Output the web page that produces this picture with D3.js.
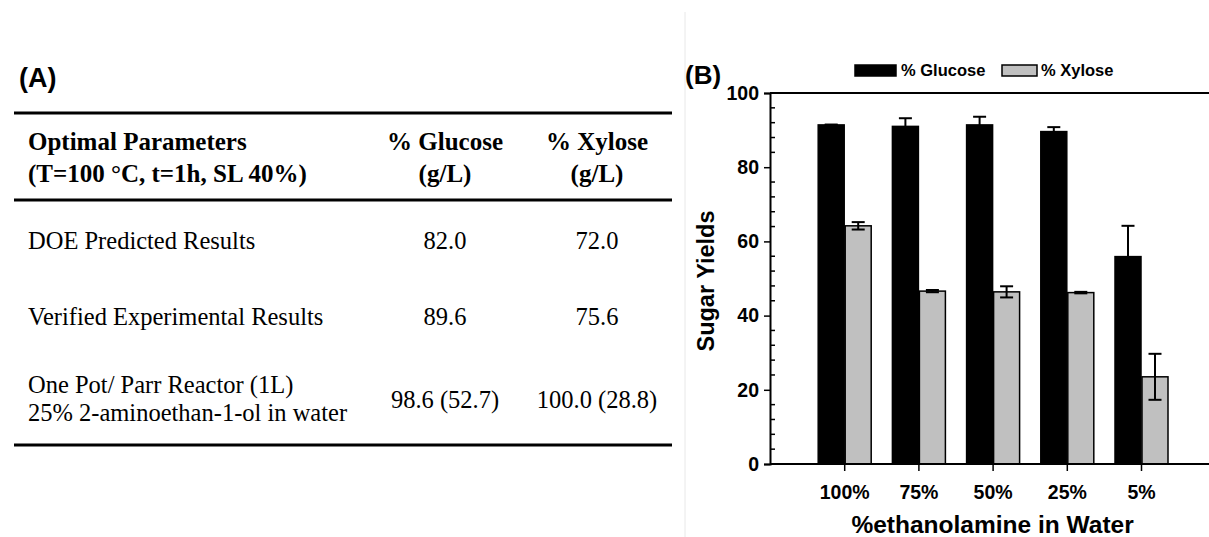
<!DOCTYPE html>
<meta charset="utf-8">
<head>
    <script src="https://d3js.org/d3.v7.min.js"></script>
    <style>
        body { margin: 0; background: #fff; }
        svg { display: block; }
    </style>
</head>
<body>
    <svg></svg>
    <script>

    // ---- data ----
    var categories = ["100%", "75%", "50%", "25%", "5%"];
    var glucose    = [91.4, 91.0, 91.4, 89.6, 55.9];
    var glucoseErr = [0.1, 2.2, 2.2, 1.2, 8.3];
    var xylose     = [64.2, 46.6, 46.4, 46.2, 23.5];
    var xyloseErr  = [1.0, 0.3, 1.5, 0.2, 6.2];
    var yTicks     = [0, 20, 40, 60, 80, 100];
    var seriesNames = ["% Glucose", "% Xylose"];

    // table (A)
    var headLeft  = ["Optimal Parameters", "(T=100 \u00B0C, t=1h, SL 40%)"];
    var headCols  = [["% Glucose", "(g/L)"], ["% Xylose", "(g/L)"]];
    var rowLabels = [["DOE Predicted Results"], ["Verified Experimental Results"],
                     ["One Pot/ Parr Reactor (1L)", "25% 2-aminoethan-1-ol in water"]];
    var glucoseCol = ["82.0", "89.6", "98.6 (52.7)"];
    var xyloseCol  = ["72.0", "75.6", "100.0 (28.8)"];

    var width = 1209,
        height = 537;

    var svg = d3.select('svg')
        .attr('width', width)
        .attr('height', height);

    var serif = '"Liberation Serif", "Times New Roman", serif';
    var sans = '"Liberation Sans", Arial, sans-serif';

    // ================= panel A : table =================
    var ta = svg.append('g');

    ta.append('text')
        .attr('x', 19).attr('y', 87)
        .style('font-family', sans).style('font-weight', 'bold').style('font-size', '27px')
        .text('(A)');

    [113, 200, 445].forEach(function (y) {
        ta.append('line')
            .attr('x1', 14).attr('x2', 672)
            .attr('y1', y).attr('y2', y)
            .attr('stroke', '#000').attr('stroke-width', 3);
    });

    var colX = [445, 597];

    headLeft.forEach(function (t, i) {
        ta.append('text')
            .attr('x', 28).attr('y', 150 + i * 32)
            .style('font-family', serif).style('font-weight', 'bold').style('font-size', '25px')
            .text(t);
    });
    headCols.forEach(function (lines, c) {
        lines.forEach(function (t, i) {
            ta.append('text')
                .attr('x', colX[c]).attr('y', 150 + i * 32)
                .attr('text-anchor', 'middle')
                .style('font-family', serif).style('font-weight', 'bold').style('font-size', '25px')
                .text(t);
        });
    });

    var rowBase = [249, 325, 393];
    rowLabels.forEach(function (lines, r) {
        lines.forEach(function (t, i) {
            ta.append('text')
                .attr('x', 28).attr('y', rowBase[r] + i * 28)
                .style('font-family', serif).style('font-size', '24.5px')
                .text(t);
        });
        var vy = lines.length > 1 ? rowBase[r] + 15 : rowBase[r];
        [glucoseCol[r], xyloseCol[r]].forEach(function (v, c) {
            ta.append('text')
                .attr('x', colX[c]).attr('y', vy)
                .attr('text-anchor', 'middle')
                .style('font-family', serif).style('font-size', '24.5px')
                .text(v);
        });
    });

    // faint divider between panels
    svg.append('line')
        .attr('x1', 685).attr('x2', 685)
        .attr('y1', 12).attr('y2', height)
        .attr('stroke', '#e8e8e8').attr('stroke-width', 1);

    // ================= panel B : bar chart =================
    var x0 = 770, yTop = 93, yBot = 464;

    var x = d3.scaleLinear()
        .domain([0, 6])
        .range([x0, x0 + 6 * 74.2]);

    var y = d3.scaleLinear()
        .domain([0, 100])
        .range([yBot, yTop]);

    var barW = 27;
    var g = svg.append('g');

    // bars
    var series = [
        { vals: glucose, errs: glucoseErr, fill: '#000', off: -barW + 1 },
        { vals: xylose, errs: xyloseErr, fill: '#c0c0c0', off: 1 }
    ];

    series.forEach(function (s) {
        g.selectAll(null)
            .data(s.vals)
            .enter().append('rect')
            .attr('x', function (d, i) { return x(i + 1) + s.off; })
            .attr('y', function (d) { return y(d); })
            .attr('width', barW - 1)
            .attr('height', function (d) { return y(0) - y(d); })
            .attr('fill', s.fill)
            .attr('stroke', '#000')
            .attr('stroke-width', 1.5);

        // error bars
        var eb = g.selectAll(null)
            .data(s.vals)
            .enter().append('g')
            .attr('stroke', '#000').attr('stroke-width', 2);
        eb.append('line')
            .attr('x1', function (d, i) { return x(i + 1) + s.off + (barW - 1) / 2; })
            .attr('x2', function (d, i) { return x(i + 1) + s.off + (barW - 1) / 2; })
            .attr('y1', function (d, i) { return y(d + s.errs[i]); })
            .attr('y2', function (d, i) { return y(d - s.errs[i]); });
        [1, -1].forEach(function (sign) {
            eb.append('line')
                .attr('x1', function (d, i) { return x(i + 1) + s.off + (barW - 1) / 2 - 6.5; })
                .attr('x2', function (d, i) { return x(i + 1) + s.off + (barW - 1) / 2 + 6.5; })
                .attr('y1', function (d, i) { return y(d + sign * s.errs[i]); })
                .attr('y2', function (d, i) { return y(d + sign * s.errs[i]); });
        });
    });

    // top frame line
    g.append('line')
        .attr('x1', x0).attr('x2', width)
        .attr('y1', yTop).attr('y2', yTop)
        .attr('stroke', '#000').attr('stroke-width', 2);

    // y axis: major ticks outward, minor ticks inward
    var yAxis = g.append('g')
        .attr('transform', 'translate(' + x0 + ',0)')
        .call(d3.axisLeft(y).tickValues(yTicks).tickSize(6).tickPadding(5));
    yAxis.select('.domain').attr('stroke-width', 2);
    yAxis.selectAll('.tick line').attr('stroke-width', 1.5);
    yAxis.selectAll('text')
        .style('font-family', sans).style('font-weight', 'bold').style('font-size', '19.5px');

    var minor = d3.range(0, 101, 4).filter(function (v) { return v % 20 !== 0; });
    g.selectAll(null)
        .data(minor)
        .enter().append('line')
        .attr('x1', x0).attr('x2', x0 + 5)
        .attr('y1', function (d) { return y(d); })
        .attr('y2', function (d) { return y(d); })
        .attr('stroke', '#000').attr('stroke-width', 1.5);

    // x axis
    var xAxis = g.append('g')
        .attr('transform', 'translate(0,' + yBot + ')')
        .call(d3.axisBottom(x)
            .tickValues([1, 2, 3, 4, 5])
            .tickFormat(function (d) { return categories[d - 1]; })
            .tickSize(7).tickPadding(14));
    xAxis.select('.domain').remove();
    xAxis.append('line')
        .attr('x1', x0).attr('x2', width)
        .attr('stroke', '#000').attr('stroke-width', 2);
    xAxis.selectAll('.tick line').attr('stroke-width', 1.5);
    xAxis.selectAll('text')
        .style('font-family', sans).style('font-weight', 'bold').style('font-size', '19.5px');

    // axis titles
    g.append('text')
        .attr('x', x(3)).attr('y', 533)
        .attr('text-anchor', 'middle')
        .style('font-family', sans).style('font-weight', 'bold').style('font-size', '24.5px')
        .text('%ethanolamine in Water');

    g.append('text')
        .attr('transform', 'translate(714,281)rotate(-90)')
        .attr('text-anchor', 'middle')
        .style('font-family', sans).style('font-weight', 'bold').style('font-size', '23.5px')
        .text('Sugar Yields');

    // panel label
    g.append('text')
        .attr('x', 685).attr('y', 84)
        .style('font-family', sans).style('font-weight', 'bold').style('font-size', '26px')
        .text('(B)');

    // legend
    var legX = [855, 1002];
    var leg = g.selectAll('.legend')
        .data(seriesNames)
        .enter().append('g')
        .attr('class', 'legend')
        .attr('transform', function (d, i) { return 'translate(' + legX[i] + ',65)'; });
    leg.append('rect')
        .attr('width', function (d, i) { return i === 0 ? 41 : 35; })
        .attr('height', 11)
        .attr('fill', function (d, i) { return series[i].fill; })
        .attr('stroke', '#000').attr('stroke-width', 1.5);
    leg.append('text')
        .attr('x', function (d, i) { return i === 0 ? 46 : 39; })
        .attr('y', 11)
        .style('font-family', sans).style('font-weight', 'bold').style('font-size', '16.5px')
        .text(function (d) { return d; });

    </script>
</body>
</html>
